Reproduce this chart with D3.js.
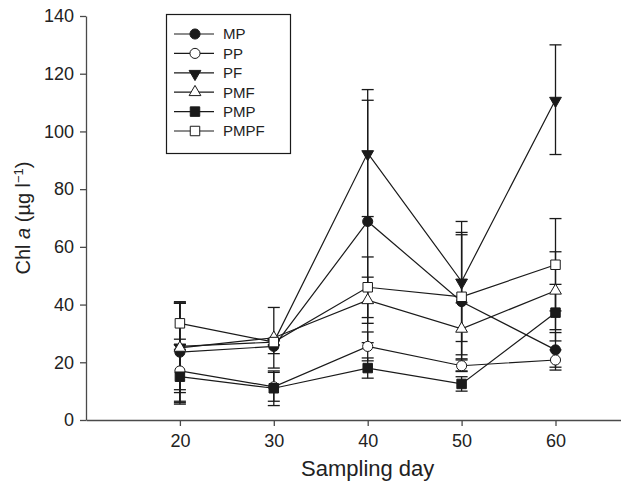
<!DOCTYPE html>
<html>
<head>
<meta charset="utf-8">
<script src="https://cdn.jsdelivr.net/npm/d3@7"></script>
<style>
  body { margin: 0; background: #fff; }
  svg text { font-family: "Liberation Sans", Arial, sans-serif; fill: #222; }
</style>
</head>
<body>
<div id="chart"></div>
<script>
// Sampling days and series (mean, SD)
const days = [20, 30, 40, 50, 60];
const seriesNames = ['MP', 'PP', 'PF', 'PMF', 'PMP', 'PMPF'];

const MP = [23.5, 25.5, 68.8, 41, 24.3];
const MP_SD = [17, 2.5, 42, 24, 6];
const PP = [17, 11.5, 25.5, 18.8, 20.8];
const PP_SD = [11, 5, 5, 2, 3.5];
const PF = [25.5, 27, 92.5, 48, 111];
const PF_SD = [15, 1, 22, 20.8, 19];
const PMF = [25, 28.5, 41.5, 31.6, 44.8];
const PMF_SD = [15.5, 10.5, 8, 9, 13.5];
const PMP = [15, 11, 18, 12.5, 37.2];
const PMP_SD = [9.5, 6, 3.5, 2.5, 9.8];
const PMPF = [33.5, 27, 46, 42.7, 53.8];
const PMPF_SD = [7.5, 1, 10.5, 21.5, 16];

const yTicks = [0, 20, 40, 60, 80, 100, 120, 140];
const xTicks = [20, 30, 40, 50, 60];

const width = 621, height = 485;

// marker look per series
const markers = {
    MP:   { type: d3.symbolCircle,   fill: '#1a1a1a', size: 80,  rot: 0 },
    PP:   { type: d3.symbolCircle,   fill: '#fff',    size: 80,  rot: 0 },
    PF:   { type: d3.symbolTriangle, fill: '#1a1a1a', size: 60,  rot: 180 },
    PMF:  { type: d3.symbolTriangle, fill: '#fff',    size: 60,  rot: 0 },
    PMP:  { type: d3.symbolSquare,   fill: '#1a1a1a', size: 90,  rot: 0 },
    PMPF: { type: d3.symbolSquare,   fill: '#fff',    size: 90,  rot: 0 }
};

const means = { MP, PP, PF, PMF, PMP, PMPF };
const sds = { MP: MP_SD, PP: PP_SD, PF: PF_SD, PMF: PMF_SD, PMP: PMP_SD, PMPF: PMPF_SD };

const series = seriesNames.map(name => ({
    name,
    points: days.map((d, i) => ({ day: d, v: means[name][i], sd: sds[name][i] }))
}));

const svg = d3.select('#chart').append('svg')
    .attr('width', width)
    .attr('height', height);

const x = d3.scaleLinear().domain([10, 70]).range([86, 86 + 6 * 93.9]);
const y = d3.scaleLinear().domain([0, 140]).range([420, 16]);

const axisColor = '#4a4a4a';

// Axes
const gx = svg.append('g')
    .attr('transform', `translate(0,${y(0)})`)
    .call(d3.axisBottom(x).tickValues(xTicks).tickSize(6).tickSizeOuter(0).tickPadding(8));
const gy = svg.append('g')
    .attr('transform', `translate(${x(10)},0)`)
    .call(d3.axisLeft(y).tickValues(yTicks).tickSize(6).tickSizeOuter(0).tickPadding(6));

[gx, gy].forEach(g => {
    g.select('.domain').attr('stroke', axisColor).attr('stroke-width', 1.3);
    g.selectAll('.tick line').attr('stroke', axisColor).attr('stroke-width', 1.3);
    g.selectAll('.tick text')
        .attr('fill', '#222')
        .style('font-size', '18px')
        .style('font-family', '"Liberation Sans", Arial, sans-serif');
});

// Axis titles
svg.append('text')
    .attr('x', x(40))
    .attr('y', 476)
    .attr('text-anchor', 'middle')
    .style('font-size', '22px')
    .text('Sampling day');

const yTitle = svg.append('text')
    .attr('transform', `translate(30,${y(70)}) rotate(-90)`)
    .attr('text-anchor', 'middle')
    .style('font-size', '20px');
yTitle.append('tspan').text('Chl ');
yTitle.append('tspan').attr('font-style', 'italic').text('a');
yTitle.append('tspan').text(' (µg l');
yTitle.append('tspan').attr('baseline-shift', 'super').style('font-size', '13px').text('−1');
yTitle.append('tspan').text(')');

const ink = '#1a1a1a';
const line = d3.line().x(d => x(d.day)).y(d => y(d.v));
const symbolPath = m => d3.symbol().type(m.type).size(m.size)();

// Lines
svg.append('g')
    .selectAll('path')
    .data(series)
    .join('path')
    .attr('fill', 'none')
    .attr('stroke', ink)
    .attr('stroke-width', 1.2)
    .attr('d', d => line(d.points));

// Error bars
const capW = 6;
const eb = svg.append('g')
    .attr('stroke', ink)
    .attr('stroke-width', 1.3);
series.forEach(s => {
    const g = eb.append('g').selectAll('g')
        .data(s.points)
        .join('g');
    g.append('line')
        .attr('x1', d => x(d.day)).attr('x2', d => x(d.day))
        .attr('y1', d => y(d.v + d.sd)).attr('y2', d => y(d.v - d.sd));
    g.append('line')
        .attr('x1', d => x(d.day) - capW).attr('x2', d => x(d.day) + capW)
        .attr('y1', d => y(d.v + d.sd)).attr('y2', d => y(d.v + d.sd));
    g.append('line')
        .attr('x1', d => x(d.day) - capW).attr('x2', d => x(d.day) + capW)
        .attr('y1', d => y(d.v - d.sd)).attr('y2', d => y(d.v - d.sd));
});

// Markers
series.forEach(s => {
    const m = markers[s.name];
    svg.append('g').selectAll('path')
        .data(s.points)
        .join('path')
        .attr('d', symbolPath(m))
        .attr('transform', d => `translate(${x(d.day)},${y(d.v) + (m.rot ? 1 : 0)}) rotate(${m.rot})`)
        .attr('fill', m.fill)
        .attr('stroke', ink)
        .attr('stroke-width', 1);
});

// Legend
const legend = svg.append('g');
legend.append('rect')
    .attr('x', 166.5).attr('y', 14.5)
    .attr('width', 124).attr('height', 139)
    .attr('fill', '#fff')
    .attr('stroke', ink)
    .attr('stroke-width', 1.2);

const row = legend.selectAll('g.row')
    .data(seriesNames)
    .join('g')
    .attr('class', 'row')
    .attr('transform', (d, i) => `translate(0,${34 + i * 19.4})`);
row.append('line')
    .attr('x1', 174).attr('x2', 214)
    .attr('stroke', ink).attr('stroke-width', 1.2);
row.append('path')
    .attr('d', d => symbolPath(markers[d]))
    .attr('transform', d => `translate(195,${markers[d].rot ? 1 : 0}) rotate(${markers[d].rot})`)
    .attr('fill', d => markers[d].fill)
    .attr('stroke', ink)
    .attr('stroke-width', 1);
row.append('text')
    .attr('x', 223)
    .attr('dy', '0.36em')
    .style('font-size', '15px')
    .text(d => d);
</script>
</body>
</html>
